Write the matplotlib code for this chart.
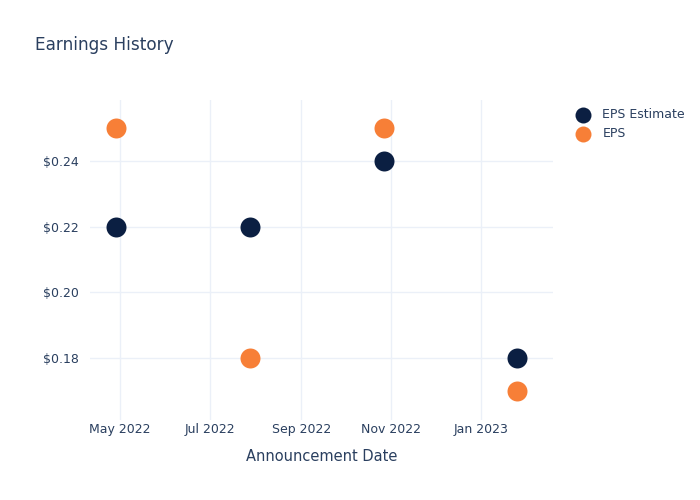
import matplotlib
matplotlib.use("Agg")
import matplotlib.pyplot as plt
import datetime as dt

dates = ["2022-04-28", "2022-07-28", "2022-10-27", "2023-01-25"]
eps_estimate = [0.22, 0.22, 0.24, 0.18]
eps_actual = [0.25, 0.18, 0.25, 0.17]
xtick_labels = ["May 2022", "Jul 2022", "Sep 2022", "Nov 2022", "Jan 2023"]
xtick_dates = ["2022-05-01", "2022-07-01", "2022-09-01", "2022-11-01", "2023-01-01"]
ytick_vals = [0.18, 0.20, 0.22, 0.24]

text_color = "#2a3f5f"
grid_color = "#ebf0f8"

x = [dt.datetime.strptime(d, "%Y-%m-%d") for d in dates]

fig = plt.figure(figsize=(7, 5), dpi=100)
ax = fig.add_axes([0.1286, 0.16, 0.79 - 0.1286, 0.64])

ax.scatter(x, eps_estimate, s=207, color="#0b1f42", label="EPS Estimate", zorder=3, linewidths=0)
ax.scatter(x, eps_actual, s=207, color="#f77f37", label="EPS", zorder=3, linewidths=0)

ax.set_xlim(dt.datetime(2022, 4, 10, 16), dt.datetime(2023, 2, 18, 18))
ax.set_ylim(0.1611, 0.2586)

ax.set_xticks([dt.datetime.strptime(d, "%Y-%m-%d") for d in xtick_dates])
ax.set_xticklabels(xtick_labels)
ax.set_yticks(ytick_vals)
ax.set_yticklabels([f"${v:.2f}" for v in ytick_vals])

ax.grid(True, color=grid_color, linewidth=1)
ax.set_axisbelow(True)
for s in ax.spines.values():
    s.set_visible(False)
ax.tick_params(axis="both", length=0, labelsize=9, colors=text_color)
ax.tick_params(axis="x", pad=2)
ax.tick_params(axis="y", pad=8)

ax.set_xlabel("Announcement Date", fontsize=10.5, color=text_color, labelpad=9.5)

fig.text(0.05, 0.911, "Earnings History", fontsize=12.2, color=text_color, va="center", ha="left")

leg = ax.legend(loc="upper left", bbox_to_anchor=(1.027, 0.991), frameon=False,
                fontsize=9, labelcolor=text_color, handletextpad=0.55,
                borderaxespad=0.0, labelspacing=0.5, markerscale=0.8)

fig.savefig("out.png", dpi=100)
